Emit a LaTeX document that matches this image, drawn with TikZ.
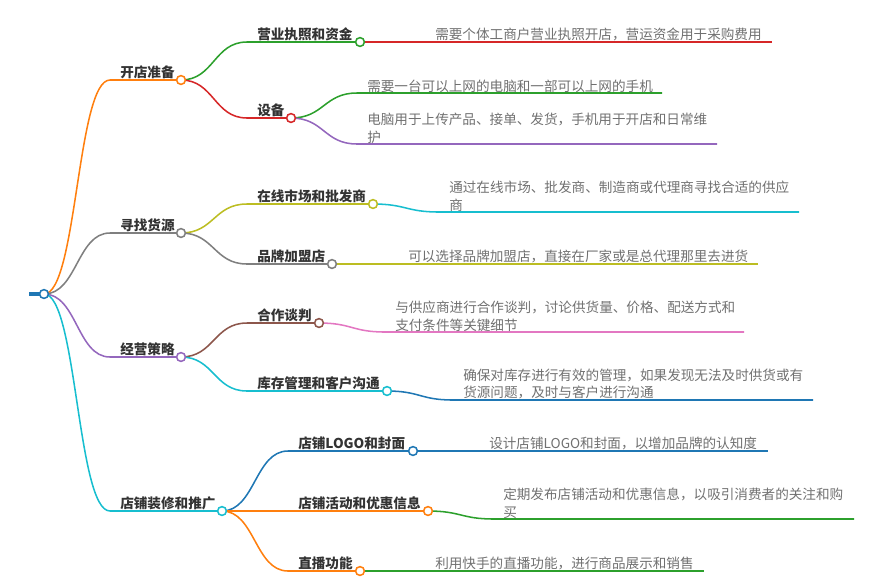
\documentclass[tikz,border=0pt]{standalone}
\usepackage{fontspec}
\newfontfamily\cjk{Noto Sans CJK SC}
\usetikzlibrary{backgrounds}
\definecolor{cBlue}{HTML}{1F77B4}
\definecolor{cOrange}{HTML}{FF7F0E}
\definecolor{cGreen}{HTML}{2CA02C}
\definecolor{cRed}{HTML}{D62728}
\definecolor{cPurple}{HTML}{9467BD}
\definecolor{cBrown}{HTML}{8C564B}
\definecolor{cPink}{HTML}{E377C2}
\definecolor{cGray}{HTML}{7F7F7F}
\definecolor{cOlive}{HTML}{BCBD22}
\definecolor{cCyan}{HTML}{17BECF}
\definecolor{labelc}{HTML}{333333}
\definecolor{leafc}{HTML}{707070}
\begin{document}
\begin{tikzpicture}[x=0.75pt,y=-0.75pt,
  link/.style={line width=1.15pt},
  mmdot/.style={circle,draw=#1,fill=white,line width=1.15pt,minimum size=6.6pt,inner sep=0pt},
  lbl/.style={font=\fontsize{10.2pt}{13pt}\cjk\bfseries, text=labelc, inner sep=0pt, anchor=base west},
  leaf/.style={font=\fontsize{10.2pt}{13.1pt}\cjk, text=leafc, inner sep=0pt, anchor=south west, align=left},
  ]
\useasboundingbox (0,0) rectangle (896,583);

% ---------- circles ----------
\node[mmdot=cBlue] (root) at (44,294) {};
\coordinate (rootstub) at (29,294);

\node[mmdot=cOrange] (A) at (181,80) {};
\node[mmdot=cGray]   (B) at (181,233) {};
\node[mmdot=cPurple] (C) at (181,357) {};
\node[mmdot=cCyan]   (D) at (222,511) {};

\node[mmdot=cGreen]  (A1) at (360,42) {};
\node[mmdot=cRed]    (A2) at (291,118) {};
\node[mmdot=cOlive]  (B1) at (373,204) {};
\node[mmdot=cGray]   (B2) at (332,264) {};
\node[mmdot=cBrown]  (C1) at (319,323) {};
\node[mmdot=cCyan]   (C2) at (387,391) {};
\node[mmdot=cBlue]   (D1) at (413,451) {};
\node[mmdot=cOrange] (D2) at (428,511) {};
\node[mmdot=cOrange] (D3) at (360,571) {};

% ---------- underline starts ----------
\coordinate (sA) at (110,80);
\coordinate (sB) at (110,233);
\coordinate (sC) at (110,357);
\coordinate (sD) at (110,511);
\coordinate (sA1) at (247,42);
\coordinate (sA2) at (247,118);
\coordinate (sB1) at (247,204);
\coordinate (sB2) at (247,264);
\coordinate (sC1) at (247,323);
\coordinate (sC2) at (247,391);
\coordinate (sD1) at (288,451);
\coordinate (sD2) at (288,511);
\coordinate (sD3) at (288,571);

% leaves: start and end
\coordinate (lA1) at (426,42);  \coordinate (eA1) at (772,42);
\coordinate (lA2a) at (357,93); \coordinate (eA2a) at (662,93);
\coordinate (lA2b) at (357,144);\coordinate (eA2b) at (717,144);
\coordinate (lB1) at (439,212); \coordinate (eB1) at (799,212);
\coordinate (lB2) at (398,264); \coordinate (eB2) at (758,264);
\coordinate (lC1) at (385,332); \coordinate (eC1) at (744,332);
\coordinate (lC2) at (453,400); \coordinate (eC2) at (813,400);
\coordinate (lD1) at (479,451); \coordinate (eD1) at (768,451);
\coordinate (lD2) at (494,519); \coordinate (eD2) at (854,519);
\coordinate (lD3) at (426,571); \coordinate (eD3) at (704,571);

% ---------- labels ----------
\node[lbl] (tA) at (120,77) {开店准备};
\node[lbl] (tB) at (120,230) {寻找货源};
\node[lbl] (tC) at (120,354) {经营策略};
\node[lbl] (tD) at (120,508) {店铺装修和推广};

\node[lbl] (tA1) at (257,39) {营业执照和资金};
\node[lbl] (tA2) at (257,115) {设备};
\node[lbl] (tB1) at (257,201) {在线市场和批发商};
\node[lbl] (tB2) at (257,261) {品牌加盟店};
\node[lbl] (tC1) at (257,320) {合作谈判};
\node[lbl] (tC2) at (257,388) {库存管理和客户沟通};
\node[lbl] (tD1) at (298,448) {店铺LOGO和封面};
\node[lbl] (tD2) at (298,508) {店铺活动和优惠信息};
\node[lbl] (tD3) at (298,568) {直播功能};

% ---------- leaf texts ----------
\node[leaf] (xA1) at (435,41.7) {需要个体工商户营业执照开店，营运资金用于采购费用};
\node[leaf] (xA2a) at (367,92.7) {需要一台可以上网的电脑和一部可以上网的手机};
\node[leaf] (xA2b) at (367,143.7) {电脑用于上传产品、接单、发货，手机用于开店和日常维\\护};
\node[leaf] (xB1) at (449,211.7) {通过在线市场、批发商、制造商或代理商寻找合适的供应\\商};
\node[leaf] (xB2) at (408,263.7) {可以选择品牌加盟店，直接在厂家或是总代理那里去进货};
\node[leaf] (xC1) at (395,331.7) {与供应商进行合作谈判，讨论供货量、价格、配送方式和\\支付条件等关键细节};
\node[leaf] (xC2) at (463,399.7) {确保对库存进行有效的管理，如果发现无法及时供货或有\\货源问题，及时与客户进行沟通};
\node[leaf] (xD1) at (489,450.7) {设计店铺LOGO和封面，以增加品牌的认知度};
\node[leaf] (xD2) at (503,518.7) {定期发布店铺活动和优惠信息，以吸引消费者的关注和购\\买};
\node[leaf] (xD3) at (435,570.7) {利用快手的直播功能，进行商品展示和销售};

% ---------- connectors ----------
\begin{scope}[on background layer]
\draw[cBlue,line width=2.3pt] (rootstub) -- (root.center);

\draw[link,cOrange] (root.center) .. controls +(33,0) and +(-33,0) .. (sA) -- (A.center);
\draw[link,cGray]   (root.center) .. controls +(33,0) and +(-33,0) .. (sB) -- (B.center);
\draw[link,cPurple] (root.center) .. controls +(33,0) and +(-33,0) .. (sC) -- (C.center);
\draw[link,cCyan]   (root.center) .. controls +(33,0) and +(-33,0) .. (sD) -- (D.center);

\draw[link,cGreen]  (A.center) .. controls +(33,0) and +(-33,0) .. (sA1) -- (A1.center);
\draw[link,cRed]    (A.center) .. controls +(33,0) and +(-33,0) .. (sA2) -- (A2.center);
\draw[link,cOlive]  (B.center) .. controls +(33,0) and +(-33,0) .. (sB1) -- (B1.center);
\draw[link,cGray]   (B.center) .. controls +(33,0) and +(-33,0) .. (sB2) -- (B2.center);
\draw[link,cBrown]  (C.center) .. controls +(33,0) and +(-33,0) .. (sC1) -- (C1.center);
\draw[link,cCyan]   (C.center) .. controls +(33,0) and +(-33,0) .. (sC2) -- (C2.center);
\draw[link,cBlue]   (D.center) .. controls +(33,0) and +(-33,0) .. (sD1) -- (D1.center);
\draw[link,cOrange] (D.center) .. controls +(33,0) and +(-33,0) .. (sD2) -- (D2.center);
\draw[link,cOrange] (D.center) .. controls +(33,0) and +(-33,0) .. (sD3) -- (D3.center);

\draw[link,cRed]    (A1.center) .. controls +(33,0) and +(-33,0) .. (lA1) -- (eA1);
\draw[link,cGreen]  (A2.center) .. controls +(33,0) and +(-33,0) .. (lA2a) -- (eA2a);
\draw[link,cPurple] (A2.center) .. controls +(33,0) and +(-33,0) .. (lA2b) -- (eA2b);
\draw[link,cCyan]   (B1.center) .. controls +(33,0) and +(-33,0) .. (lB1) -- (eB1);
\draw[link,cOlive]  (B2.center) .. controls +(33,0) and +(-33,0) .. (lB2) -- (eB2);
\draw[link,cPink]   (C1.center) .. controls +(33,0) and +(-33,0) .. (lC1) -- (eC1);
\draw[link,cBlue]   (C2.center) .. controls +(33,0) and +(-33,0) .. (lC2) -- (eC2);
\draw[link,cBlue]   (D1.center) .. controls +(33,0) and +(-33,0) .. (lD1) -- (eD1);
\draw[link,cGreen]  (D2.center) .. controls +(33,0) and +(-33,0) .. (lD2) -- (eD2);
\draw[link,cGreen]  (D3.center) .. controls +(33,0) and +(-33,0) .. (lD3) -- (eD3);
\end{scope}
\end{tikzpicture}
\end{document}
